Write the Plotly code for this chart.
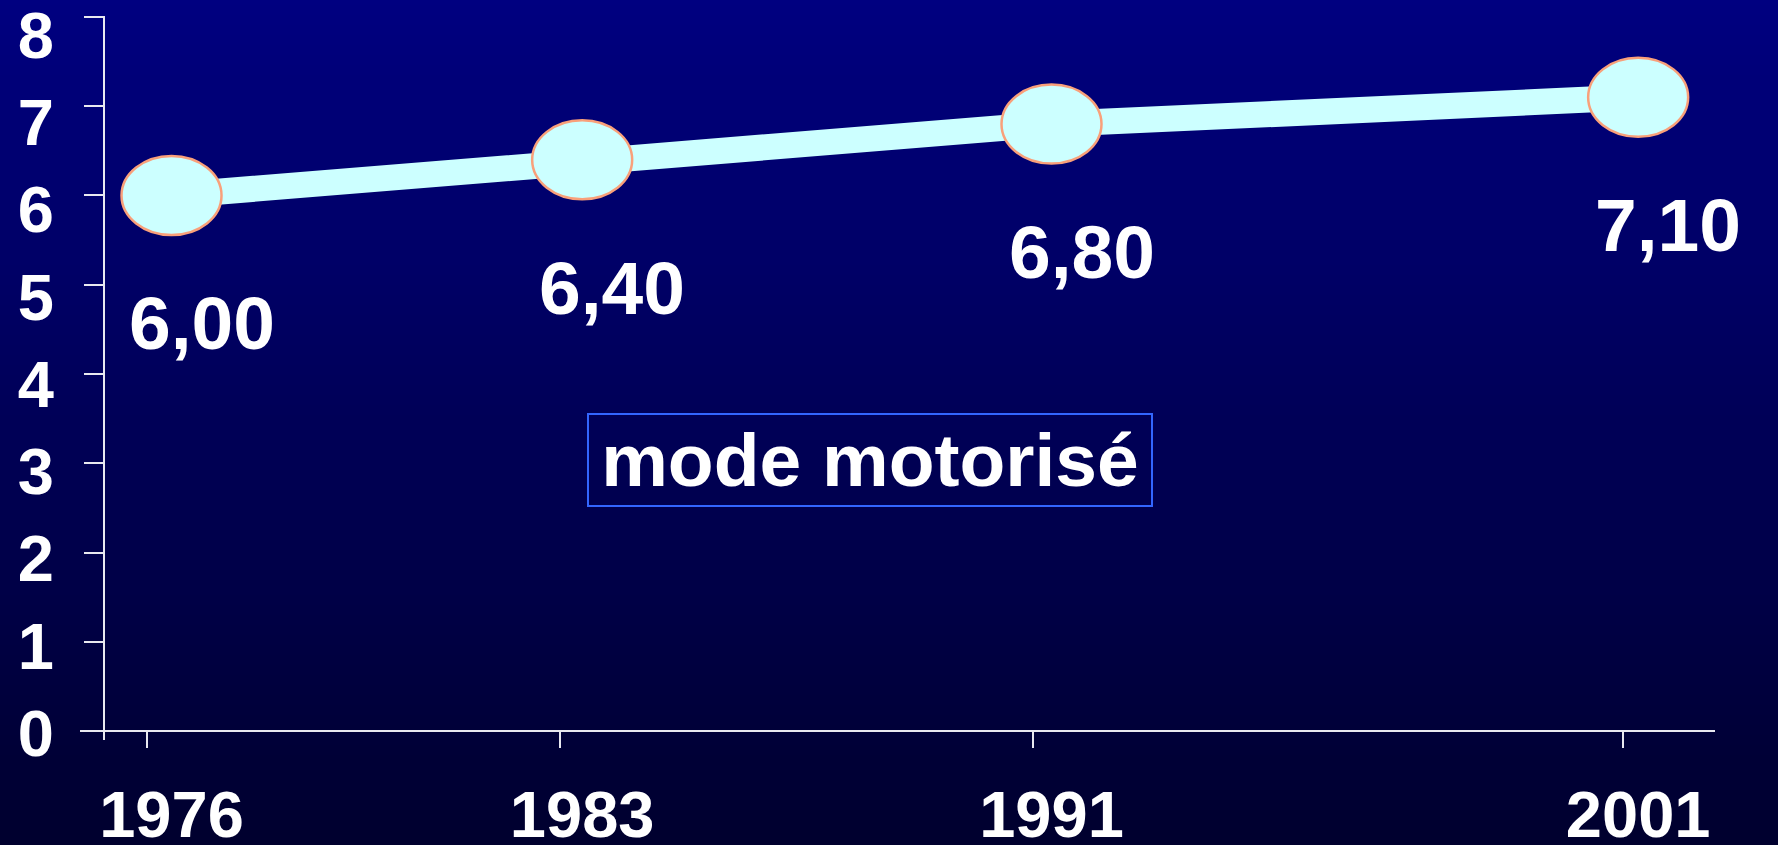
import plotly.graph_objects as go

# ---------------- data ----------------
years = [1976, 1983, 1991, 2001]
values = [6.00, 6.40, 6.80, 7.10]
value_labels = ["6,00", "6,40", "6,80", "7,10"]
year_labels = ["1976", "1983", "1991", "2001"]
y_ticks = [0, 1, 2, 3, 4, 5, 6, 7, 8]
y_ticktext = ["0", "1", "2", "3", "4", "5", "6", "7", "8"]
caption = "mode motorisé"

# ---------------- layout helpers ----------------
W, H = 1778, 845
FONT = "Liberation Sans, Arial, Helvetica, sans-serif"
LINE_COLOR = "#CCFFFF"
EDGE_COLOR = "#F9A07A"
AXIS_COLOR = "#E8E8F0"


def px_x(p):
    return p / W


def px_y(p):
    return 1 - p / H


# plot frame (pixels)
X_LEFT, X_RIGHT = 80, 1715
Y_TOP, Y_BOTTOM = 16, 740
X_LINE_Y = 731      # where the x axis line sits
Y_LINE_X = 104      # where the y axis line sits

# ---------------- background gradient ----------------
shapes = []
n_bands = 169
top_b, bot_b = 128, 46
for i in range(n_bands):
    t0 = i / n_bands
    t1 = (i + 1) / n_bands
    tm = (i + 0.5) / n_bands
    b = top_b + (bot_b - top_b) * tm
    shapes.append(dict(type="rect", xref="paper", yref="paper",
                       x0=0, x1=1, y0=max(0, 1 - t1 - 0.002), y1=1 - t0,
                       fillcolor=f"rgb(0,0,{b:.0f})", line=dict(width=0),
                       layer="below"))

# ---------------- figure ----------------
fig = go.Figure()

fig.add_trace(go.Scatter(
    x=years, y=values, mode="lines",
    line=dict(color=LINE_COLOR, width=26),
    hoverinfo="skip", xaxis="x", yaxis="y",
))
# invisible companion trace so the overlay axes are drawn
fig.add_trace(go.Scatter(
    x=years, y=values, mode="markers", marker=dict(opacity=0),
    hoverinfo="skip", xaxis="x2", yaxis="y2",
))

# elliptical markers
for yr, v in zip(years, values):
    shapes.append(dict(type="circle", xref="x", yref="y",
                       xsizemode="pixel", ysizemode="pixel",
                       xanchor=yr, yanchor=v,
                       x0=-50, x1=50, y0=-39.5, y1=39.5,
                       fillcolor=LINE_COLOR,
                       line=dict(color=EDGE_COLOR, width=2.5),
                       layer="above"))

annotations = []
for yr, v, lab in zip(years, values, value_labels):
    annotations.append(dict(x=yr, y=v, xref="x", yref="y", text=lab,
                            showarrow=False, xshift=30, yshift=-128,
                            xanchor="center", yanchor="middle",
                            font=dict(family=FONT, size=75, color="white",
                                      weight="bold")))

annotations.append(dict(x=px_x(870), y=px_y(460), xref="paper", yref="paper",
                        text=caption, showarrow=False,
                        xanchor="center", yanchor="middle",
                        width=562, height=90, borderpad=0,
                        bordercolor="#3366FF", borderwidth=2,
                        font=dict(family=FONT, size=75, color="white",
                                  weight="bold")))

tickfont = dict(family=FONT, size=65, color="white", weight="bold")

fig.update_layout(
    template="none",
    width=W, height=H, autosize=False,
    margin=dict(l=0, r=0, t=0, b=0, pad=0, autoexpand=False),
    paper_bgcolor="#000050", plot_bgcolor="rgba(0,0,0,0)",
    showlegend=False, hovermode=False,
    shapes=shapes, annotations=annotations,
    xaxis=dict(domain=[px_x(X_LEFT), px_x(X_RIGHT)],
               range=[1974.44, 2002.31], automargin=False,
               anchor="free", position=px_y(X_LINE_Y),
               showline=True, linecolor=AXIS_COLOR, linewidth=2,
               showgrid=False, zeroline=False, ticks="",
               tickmode="array", tickvals=years, ticktext=year_labels,
               tickfont=tickfont, ticklabelstandoff=27,
               ticklabeloverflow="allow"),
    xaxis2=dict(domain=[px_x(X_LEFT), px_x(X_RIGHT)],
                range=[1974.86, 2002.56], overlaying="x", automargin=False,
                anchor="free", position=px_y(X_LINE_Y),
                showline=False, showgrid=False, zeroline=False,
                ticks="outside", ticklen=16, tickwidth=1.5,
                tickcolor=AXIS_COLOR, tickmode="array", tickvals=years,
                showticklabels=False),
    yaxis=dict(domain=[px_y(Y_BOTTOM), px_y(Y_TOP)],
               range=[-0.1008, 8.011], automargin=False,
               anchor="free", position=px_x(Y_LINE_X),
               showline=True, linecolor=AXIS_COLOR, linewidth=2,
               showgrid=False, zeroline=False,
               ticks="outside", ticklen=19, tickwidth=2,
               tickcolor=AXIS_COLOR, tickmode="array", tickvals=y_ticks,
               showticklabels=False),
    yaxis2=dict(domain=[px_y(Y_BOTTOM), px_y(Y_TOP)],
                range=[-0.0802, 8.218], overlaying="y", automargin=False,
                anchor="free", position=px_x(Y_LINE_X), side="left",
                showline=False, showgrid=False, zeroline=False, ticks="",
                tickmode="array", tickvals=y_ticks, ticktext=y_ticktext,
                tickfont=tickfont, ticklabelstandoff=50,
                ticklabeloverflow="allow"),
)

fig.write_html(
    "out.html",
    config={"displayModeBar": False},
    post_script="document.body.style.margin='0';document.body.style.overflow='hidden';",
)
